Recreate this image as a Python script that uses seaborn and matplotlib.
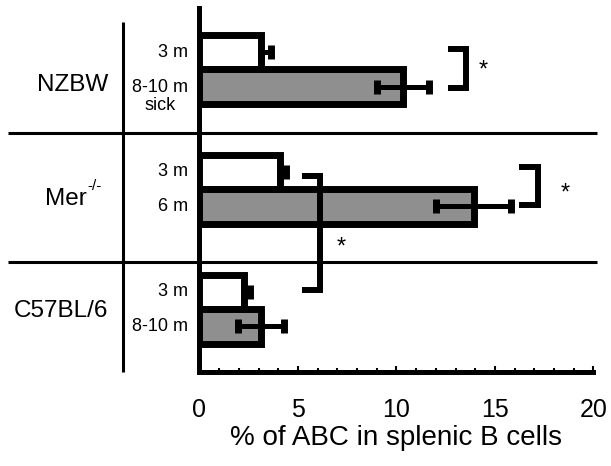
import matplotlib
matplotlib.use("Agg")
import matplotlib.pyplot as plt
import seaborn as sns
import pandas as pd
from matplotlib.ticker import MultipleLocator

# ---- data ----
groups = ["NZBW", "Mer", "C57BL/6"]
group_labels = ["NZBW", "Mer", "C57BL/6"]
group_superscripts = ["", "-/-", ""]
bar_group = ["NZBW", "NZBW", "Mer", "Mer", "C57BL/6", "C57BL/6"]
age_class = ["young", "old", "young", "old", "young", "old"]
age_labels = ["3 m", "8-10 m\nsick", "3 m", "6 m", "3 m", "8-10 m"]
values = [3.12, 10.34, 4.09, 13.93, 2.24, 3.13]
errors = [0.52, 1.33, 0.28, 1.90, 0.32, 1.15]
x_ticks = [0, 5, 10, 15, 20]
x_label = "% of ABC in splenic B cells"

df = pd.DataFrame({"group": bar_group, "age": age_class, "value": values,
                   "err": errors, "label": age_labels})

sns.set_theme(style="white")
plt.rcParams["font.family"] = ["Liberation Sans", "DejaVu Sans"]
plt.rcParams["text.color"] = "black"
plt.rcParams["axes.labelcolor"] = "black"
plt.rcParams["xtick.color"] = "black"

fig = plt.figure(figsize=(6.11, 4.66), dpi=100)
ax = fig.add_axes([0.3265, 0.2017, 0.6448, 0.7811])

hue_order = ["young", "old"]
sns.barplot(data=df, x="value", y="group", hue="age", order=groups,
            hue_order=hue_order, palette={"young": "white", "old": "#8f8f8f"},
            orient="h", width=0.575, dodge=True, errorbar=None,
            edgecolor="black", linewidth=5, legend=False, ax=ax)

# error bars, positions taken from the drawn bars
for cont, lvl in zip(ax.containers, hue_order):
    for bar, g in zip(cont, groups):
        row = df[(df.group == g) & (df.age == lvl)].iloc[0]
        yc = bar.get_y() + bar.get_height() / 2
        lo = row.err if lvl == "old" else 0.0
        ax.errorbar(row.value, yc, xerr=[[lo], [row.err]], fmt="none",
                    ecolor="black", elinewidth=3.6, capsize=5, capthick=5,
                    zorder=3)
        lines = row.label.split("\n")
        ax.text(-0.58, yc + 0.083 * (len(lines) - 1), row.label, ha="right",
                va="center", multialignment="center", fontsize=13,
                linespacing=1.1, clip_on=False, color="black")

ax.set_xlim(0, 20)
ax.set_ylim(2.525, -0.511)
ax.set_xticks(x_ticks)
ax.set_xticklabels([str(t) for t in x_ticks])
ax.xaxis.set_minor_locator(MultipleLocator(1))
ax.tick_params(axis="x", which="major", direction="in", length=4, width=1.5,
               pad=19, labelsize=18, color="black", labelcolor="black",
               bottom=True)
ax.tick_params(axis="x", which="minor", direction="in", length=3, width=1.5,
               color="black", bottom=True)
ax.set_yticks([])
ax.set_ylabel("")
ax.set_xlabel(x_label, fontsize=20, labelpad=2, color="black")
for s in ["top", "right"]:
    ax.spines[s].set_visible(False)
for s in ["left", "bottom"]:
    ax.spines[s].set_linewidth(3.6)
    ax.spines[s].set_color("black")

# group separators and frame lines
for ysep in [0.532, 1.607]:
    ax.plot([-9.72, 20.18], [ysep, ysep], color="black", lw=2.2,
            clip_on=False, solid_capstyle="butt")
ax.plot([-3.88, -3.88], [-0.394, 2.525], color="black", lw=2.2,
        clip_on=False, solid_capstyle="butt")

# group labels (right edge positions in data units)
for lab, sup, gx, gy in zip(group_labels, group_superscripts,
                            [-4.65, -5.71, -4.62], [0.13, 1.08, 2.02]):
    t = ax.text(gx, gy, lab, ha="right", va="center", fontsize=17.5,
                clip_on=False, color="black")
    if sup:
        ax.annotate(sup, xy=(1.0, 0.5), xycoords=t, xytext=(0, 9.5),
                    textcoords="offset points", ha="left", va="center",
                    fontsize=11, color="black")

# significance brackets
brackets = [(12.61, 13.53, -0.169, 0.152), (16.22, 17.16, 0.815, 1.128),
            (5.2, 6.12, 0.886, 1.845)]
for x0, x1, y0, y1 in brackets:
    ax.plot([x0, x1, x1, x0], [y0, y0, y1, y1], color="black", lw=4.3,
            solid_joinstyle="miter", solid_capstyle="butt", clip_on=False,
            zorder=4)
for sx, sy in [(14.39, 0.01), (18.55, 1.035), (7.18, 1.485)]:
    ax.text(sx, sy, "*", ha="center", va="center", fontsize=17,
            clip_on=False, color="black")

fig.savefig("out.png", dpi=100)
